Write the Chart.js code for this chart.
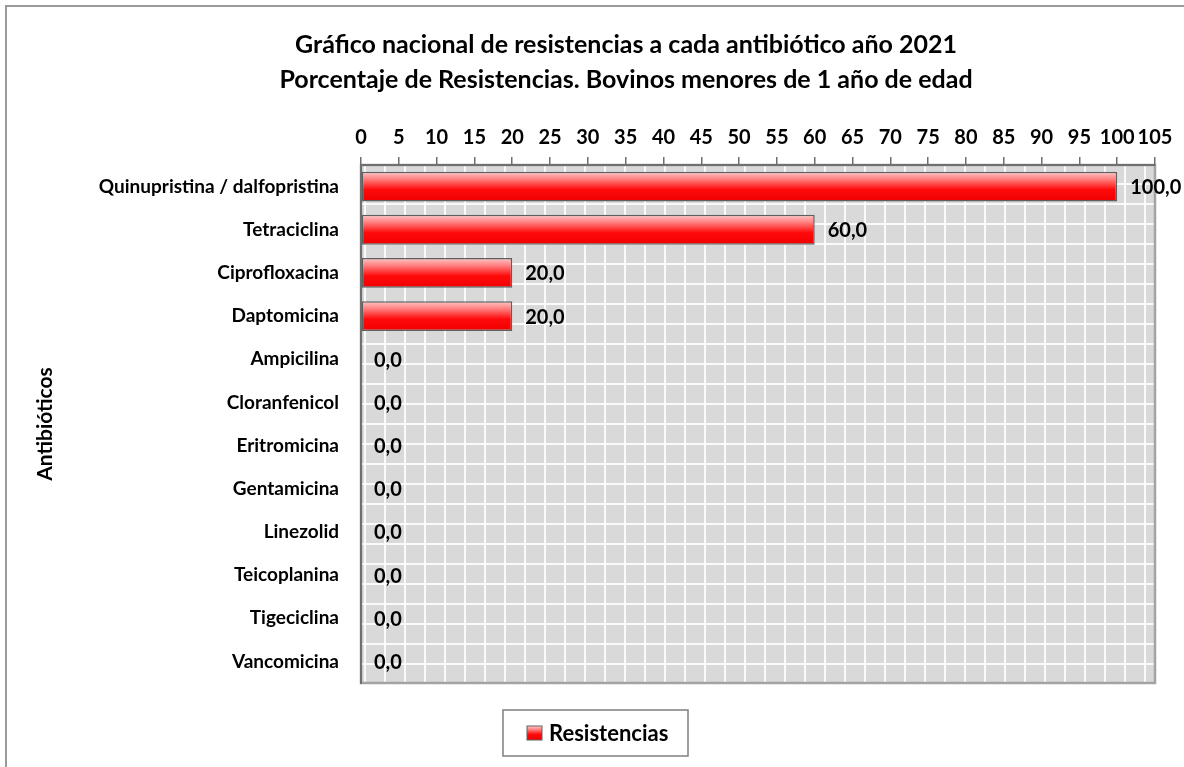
<!DOCTYPE html>
<html>
<head>
<meta charset="utf-8">
<script src="https://cdn.jsdelivr.net/npm/chart.js@4.4.0/dist/chart.umd.min.js"></script>
<style>
  body { margin: 0; background: #fff; }
  #wrap { position: relative; width: 1184px; height: 767px; overflow: hidden; }
  #frame { position: absolute; left: 5px; top: 5px; width: 1300px; height: 900px; border: 2px solid #9a9a9a; }
  #chart { position: absolute; left: 0; top: 0; }
</style>
</head>
<body>
<div id="wrap">
  <div id="frame"></div>
  <canvas id="chart" width="1184" height="767"></canvas>
</div>
<script>
const titleLines = [
  "Gráfico nacional de resistencias a cada antibiótico año 2021",
  "Porcentaje de Resistencias. Bovinos menores de 1 año de edad"
];
const antibioticos = [
  "Quinupristina / dalfopristina",
  "Tetraciclina",
  "Ciprofloxacina",
  "Daptomicina",
  "Ampicilina",
  "Cloranfenicol",
  "Eritromicina",
  "Gentamicina",
  "Linezolid",
  "Teicoplanina",
  "Tigeciclina",
  "Vancomicina"
];
const resistencias = [100, 60, 20, 20, 0, 0, 0, 0, 0, 0, 0, 0];
const serieLabel = "Resistencias";
const axisTitle = "Antibióticos";
const xMin = 0;
const xMax = 105;
const xStep = 5;

Chart.defaults.font.family = "Lato";
Chart.defaults.color = "#000";

const BAR_PCT = 0.69;

function redGradient(ctx, top, bottom) {
  const g = ctx.createLinearGradient(0, top, 0, bottom);
  g.addColorStop(0, "#ffc8c8");
  g.addColorStop(0.25, "#ff8080");
  g.addColorStop(0.6, "#ff0a0a");
  g.addColorStop(1, "#f00000");
  return g;
}

// plot area: grey fill with a white grid pattern + border
const plotBackground = {
  id: "plotBackground",
  beforeDraw(chart) {
    const { ctx, chartArea: a } = chart;
    ctx.save();
    ctx.fillStyle = "#d9d9d9";
    ctx.fillRect(a.left, a.top, a.right - a.left, a.bottom - a.top);
    ctx.beginPath();
    ctx.rect(a.left, a.top, a.right - a.left, a.bottom - a.top);
    ctx.clip();
    ctx.strokeStyle = "rgba(255,255,255,0.85)";
    ctx.lineWidth = 2;
    for (let x = 5; x < a.right; x += 20) {
      if (x < a.left) continue;
      ctx.beginPath();
      ctx.moveTo(x, a.top);
      ctx.lineTo(x, a.bottom);
      ctx.stroke();
    }
    for (let y = 4; y < a.bottom; y += 20) {
      if (y < a.top) continue;
      ctx.beginPath();
      ctx.moveTo(a.left, y);
      ctx.lineTo(a.right, y);
      ctx.stroke();
    }
    ctx.restore();
    ctx.save();
    ctx.strokeStyle = "#a3a3a3";
    ctx.lineWidth = 2.5;
    ctx.strokeRect(a.left, a.top, a.right - a.left, a.bottom - a.top);
    ctx.restore();
  }
};

// value labels at the end of each bar, "100,0" style
const valueLabels = {
  id: "valueLabels",
  afterDatasetsDraw(chart) {
    const { ctx } = chart;
    const meta = chart.getDatasetMeta(0);
    ctx.save();
    ctx.font = "bold 20px Lato";
    ctx.fillStyle = "#000";
    ctx.textAlign = "left";
    ctx.textBaseline = "middle";
    meta.data.forEach((bar, i) => {
      const txt = resistencias[i].toFixed(1).replace(".", ",");
      ctx.fillText(txt, bar.x + 13, bar.y + 1);
    });
    ctx.restore();
  }
};

// boxed legend below the plot
const boxedLegend = {
  id: "boxedLegend",
  afterDraw(chart) {
    const { ctx } = chart;
    const bx = 503, by = 710, bw = 185, bh = 46;
    ctx.save();
    ctx.fillStyle = "#fff";
    ctx.fillRect(bx, by, bw, bh);
    ctx.strokeStyle = "#7f7f7f";
    ctx.lineWidth = 1.5;
    ctx.strokeRect(bx, by, bw, bh);
    const sx = 527, sy = 726, ss = 14;
    ctx.fillStyle = redGradient(ctx, sy, sy + ss);
    ctx.fillRect(sx, sy, 15, ss);
    ctx.strokeStyle = "#606060";
    ctx.lineWidth = 1;
    ctx.strokeRect(sx, sy, 15, ss);
    ctx.font = "bold 22px Lato";
    ctx.fillStyle = "#000";
    ctx.textAlign = "left";
    ctx.textBaseline = "middle";
    ctx.fillText(serieLabel, 549, by + bh / 2 + 1);
    ctx.restore();
  }
};

new Chart(document.getElementById("chart"), {
  type: "bar",
  data: {
    labels: antibioticos,
    datasets: [{
      label: serieLabel,
      data: resistencias,
      backgroundColor(c) {
        const chart = c.chart;
        if (!chart.chartArea || !chart.scales.y) return "#ff0000";
        const y = chart.scales.y.getPixelForValue(c.dataIndex);
        const half = chart.scales.y.height / antibioticos.length * BAR_PCT / 2;
        return redGradient(chart.ctx, y - half, y + half);
      },
      borderColor: "#5f5f5f",
      borderWidth: (c) => (resistencias[c.dataIndex] ? 1.5 : 0),
      borderSkipped: false,
      categoryPercentage: 1,
      barPercentage: BAR_PCT
    }]
  },
  options: {
    indexAxis: "y",
    responsive: false,
    animation: false,
    layout: { padding: { left: 97, right: 29, top: 0, bottom: 84 } },
    plugins: {
      legend: { display: false },
      tooltip: { enabled: false },
      title: {
        display: true,
        text: titleLines,
        color: "#000",
        font: { family: "Lato", size: 25, weight: "bold", lineHeight: 35 / 25 },
        padding: { top: 27.5, bottom: 0 }
      }
    },
    scales: {
      x: {
        position: "top",
        min: xMin,
        max: xMax,
        afterFit(s) { s.height = 67.5; },
        ticks: {
          stepSize: xStep,
          padding: 7,
          maxRotation: 0,
          minRotation: 0,
          autoSkip: false,
          font: { size: 20, weight: "bold" },
          color: "#000"
        },
        grid: {
          drawOnChartArea: false,
          drawTicks: true,
          tickLength: 8,
          color: "#6f6f6f",
          lineWidth: 1.5
        },
        border: { display: true, color: "#6f6f6f", width: 2 }
      },
      y: {
        afterFit(s) { s.width = 264; },
        ticks: {
          padding: 22,
          font: { size: 19, weight: "bold" },
          color: "#000"
        },
        grid: { drawOnChartArea: false, drawTicks: false },
        border: { display: true, color: "#6f6f6f", width: 2 },
        title: {
          display: true,
          text: axisTitle,
          color: "#000",
          font: { size: 21, weight: "bold" },
          padding: { top: -64.6, bottom: 0 }
        }
      }
    }
  },
  plugins: [plotBackground, valueLabels, boxedLegend]
});
</script>
</body>
</html>
